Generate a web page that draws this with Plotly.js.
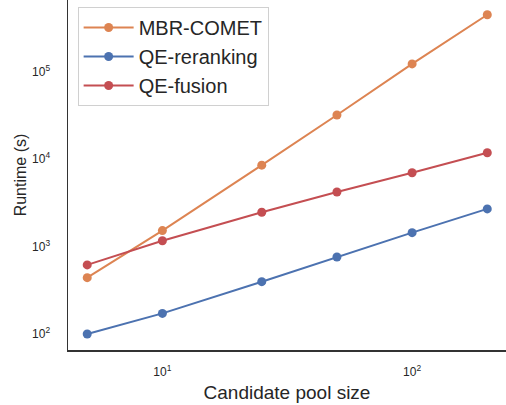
<!DOCTYPE html>
<html>
<head>
<meta charset="utf-8">
<script src="https://cdn.plot.ly/plotly-3.0.1.min.js"></script>
<style>html,body{margin:0;padding:0;background:#fff;}#chart{width:506px;height:405px;}</style>
</head>
<body>
<div id="chart"></div>
<script>
const poolSizes = [5, 10, 25, 50, 100, 200];
const mbrComet = [440, 1520, 8500, 31800, 122000, 445000];
const qeReranking = [100, 172, 396, 759, 1440, 2690];
const qeFusion = [616, 1162, 2460, 4200, 6960, 11800];
const xTickVals = [10, 100];
const xTickText = ['10<sup>1</sup>', '10<sup>2</sup>'];
const yTickVals = [100, 1000, 10000, 100000];
const yTickText = ['10<sup>2</sup>', '10<sup>3</sup>', '10<sup>4</sup>', '10<sup>5</sup>'];

const FONT = '"Liberation Sans", Arial, sans-serif';
function tr(name, y, color) {
  return {x: poolSizes, y: y, name: name, type: 'scatter', mode: 'lines+markers',
    line: {color: color, width: 2}, marker: {color: color, size: 9}};
}
const data = [
  tr('MBR-COMET', mbrComet, '#DD8452'),
  tr('QE-reranking', qeReranking, '#4C72B0'),
  tr('QE-fusion', qeFusion, '#C44E52')
];
const layout = {
  width: 506, height: 405,
  margin: {l: 68, r: 0, t: 0, b: 55},
  paper_bgcolor: '#fff', plot_bgcolor: '#fff',
  font: {family: FONT, color: '#262626'},
  showlegend: true,
  legend: {x: 0.022, y: 0.98, xanchor: 'left', yanchor: 'top',
    bgcolor: 'rgba(255,255,255,0.8)', bordercolor: '#d0d0d0', borderwidth: 1,
    itemwidth: 50,
    font: {size: 20, family: FONT, color: '#262626'}},
  xaxis: {type: 'log', range: [0.622, 2.376], showgrid: false, zeroline: false,
    showline: true, linecolor: '#333', linewidth: 1.5, mirror: false,
    tickmode: 'array', tickvals: xTickVals, ticktext: xTickText, ticks: '',
    ticklabelstandoff: 10, tickfont: {size: 12, family: FONT, color: '#262626'},
    title: {text: 'Candidate pool size', font: {size: 19, family: FONT, color: '#262626'}, standoff: 8}},
  yaxis: {type: 'log', range: [1.817, 5.817], showgrid: false, zeroline: false,
    showline: true, linecolor: '#333', linewidth: 1.5, mirror: false,
    tickmode: 'array', tickvals: yTickVals, ticktext: yTickText, ticks: '',
    ticklabelstandoff: 14, tickfont: {size: 12, family: FONT, color: '#262626'},
    title: {text: 'Runtime (s)', font: {size: 16, family: FONT, color: '#262626'}, standoff: 1}}
};
Plotly.newPlot('chart', data, layout, {displayModeBar: false, staticPlot: true});
</script>
</body>
</html>
